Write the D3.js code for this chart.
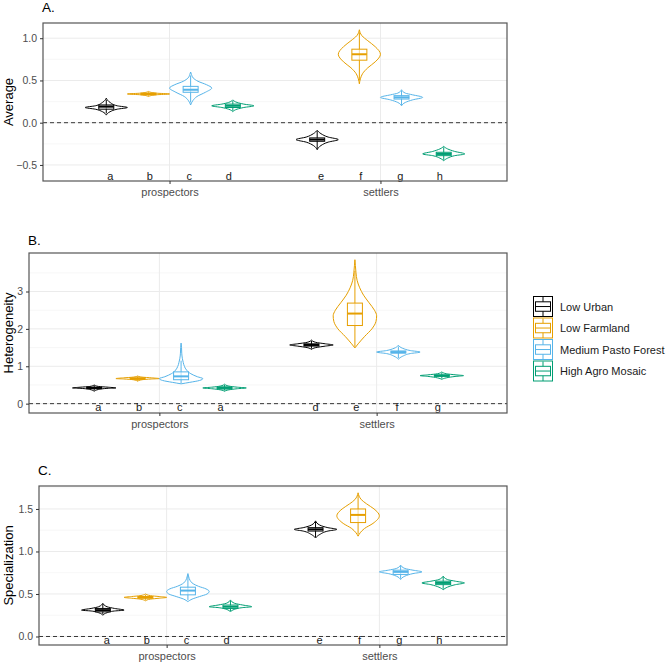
<!DOCTYPE html>
<html>
<head>
<meta charset="utf-8">
<script src="https://cdn.jsdelivr.net/npm/d3@7"></script>
<style>
  body { margin: 0; background: #fff; }
  svg { font-family: Arial, "Liberation Sans", sans-serif; }
</style>
</head>
<body>
<svg width="669" height="663"></svg>
<script>
// groups and periods
var groupNames = ["Low Urban", "Low Farmland", "Medium Pasto Forest", "High Agro Mosaic"];
var groupColors = ["#000000", "#E69F00", "#56B4E9", "#009E73"];
var periods = ["prospectors", "settlers"];

// each list: prospectors x 4 groups, then settlers x 4 groups
// boxes: [lower whisker, q1, median, q3, upper whisker]
// violins: [value, relative density]

// A. Average
var avgLetters = ["a", "b", "c", "d", "e", "f", "g", "h"];
var avgBoxes = [
  [0.11, 0.16, 0.19, 0.21, 0.27],
  [0.32, 0.33, 0.34, 0.35, 0.36],
  [0.24, 0.36, 0.39, 0.43, 0.56],
  [0.14, 0.18, 0.20, 0.22, 0.26],
  [-0.31, -0.22, -0.20, -0.18, -0.10],
  [0.50, 0.74, 0.81, 0.87, 1.07],
  [0.21, 0.28, 0.30, 0.32, 0.38],
  [-0.44, -0.39, -0.37, -0.35, -0.29]
];
var avgViolins = [
  [[0.09, 0], [0.13, 0.18], [0.16, 0.52], [0.18, 1], [0.20, 0.52], [0.24, 0.18], [0.29, 0]],
  [[0.31, 0], [0.33, 0.35], [0.34, 1], [0.35, 0.35], [0.37, 0]],
  [[0.21, 0], [0.26, 0.1], [0.31, 0.3], [0.36, 0.7], [0.41, 1], [0.45, 0.75], [0.49, 0.35], [0.53, 0.12], [0.57, 0.04], [0.60, 0]],
  [[0.13, 0], [0.16, 0.2], [0.18, 0.52], [0.20, 1], [0.22, 0.52], [0.24, 0.2], [0.27, 0]],
  [[-0.32, 0], [-0.27, 0.18], [-0.23, 0.52], [-0.20, 1], [-0.17, 0.52], [-0.13, 0.18], [-0.09, 0]],
  [[0.46, 0], [0.52, 0.05], [0.58, 0.15], [0.65, 0.4], [0.72, 0.75], [0.81, 1], [0.90, 0.75], [0.97, 0.4], [1.03, 0.12], [1.07, 0.03], [1.10, 0]],
  [[0.20, 0], [0.24, 0.18], [0.27, 0.52], [0.30, 1], [0.33, 0.52], [0.35, 0.18], [0.39, 0]],
  [[-0.45, 0], [-0.42, 0.18], [-0.39, 0.52], [-0.37, 1], [-0.34, 0.52], [-0.31, 0.18], [-0.28, 0]]
];

// B. Heterogeneity
var hetLetters = ["a", "b", "c", "a", "d", "e", "f", "g"];
var hetBoxes = [
  [0.35, 0.40, 0.42, 0.44, 0.49],
  [0.61, 0.65, 0.67, 0.69, 0.73],
  [0.55, 0.64, 0.73, 0.85, 1.15],
  [0.35, 0.39, 0.42, 0.45, 0.50],
  [1.47, 1.54, 1.57, 1.60, 1.68],
  [1.52, 2.09, 2.41, 2.69, 3.55],
  [1.22, 1.35, 1.38, 1.41, 1.53],
  [0.67, 0.73, 0.75, 0.77, 0.83]
];
var hetViolins = [
  [[0.33, 0], [0.38, 0.2], [0.41, 0.65], [0.42, 1], [0.44, 0.65], [0.46, 0.2], [0.50, 0]],
  [[0.60, 0], [0.64, 0.2], [0.66, 0.65], [0.67, 1], [0.69, 0.65], [0.71, 0.2], [0.74, 0]],
  [[0.53, 0], [0.57, 0.4], [0.62, 0.85], [0.67, 1], [0.72, 0.75], [0.80, 0.45], [0.90, 0.25], [1.00, 0.15], [1.10, 0.1], [1.20, 0.06], [1.35, 0.03], [1.50, 0.02], [1.62, 0]],
  [[0.33, 0], [0.37, 0.2], [0.40, 0.6], [0.42, 1], [0.44, 0.6], [0.47, 0.2], [0.52, 0]],
  [[1.45, 0], [1.50, 0.2], [1.54, 0.65], [1.57, 1], [1.60, 0.65], [1.64, 0.2], [1.70, 0]],
  [[1.49, 0], [1.60, 0.15], [1.80, 0.45], [2.00, 0.78], [2.20, 0.97], [2.35, 1], [2.50, 0.9], [2.70, 0.65], [2.90, 0.4], [3.10, 0.22], [3.30, 0.1], [3.50, 0.05], [3.70, 0.02], [3.85, 0]],
  [[1.19, 0], [1.27, 0.2], [1.34, 0.55], [1.38, 1], [1.42, 0.55], [1.48, 0.2], [1.56, 0]],
  [[0.65, 0], [0.69, 0.2], [0.73, 0.65], [0.75, 1], [0.77, 0.65], [0.80, 0.2], [0.85, 0]]
];

// C. Specialization
var speLetters = ["a", "b", "c", "d", "e", "f", "g", "h"];
var speBoxes = [
  [0.26, 0.29, 0.31, 0.33, 0.38],
  [0.43, 0.45, 0.46, 0.47, 0.49],
  [0.43, 0.49, 0.54, 0.58, 0.71],
  [0.30, 0.33, 0.35, 0.37, 0.42],
  [1.17, 1.24, 1.26, 1.28, 1.35],
  [1.20, 1.34, 1.43, 1.50, 1.67],
  [0.68, 0.73, 0.76, 0.78, 0.83],
  [0.56, 0.61, 0.63, 0.65, 0.70]
];
var speViolins = [
  [[0.25, 0], [0.28, 0.2], [0.30, 0.55], [0.31, 1], [0.33, 0.55], [0.35, 0.2], [0.39, 0]],
  [[0.42, 0], [0.44, 0.25], [0.45, 0.65], [0.46, 1], [0.47, 0.65], [0.48, 0.25], [0.50, 0]],
  [[0.41, 0], [0.44, 0.2], [0.47, 0.55], [0.50, 0.9], [0.53, 1], [0.56, 0.85], [0.59, 0.5], [0.62, 0.25], [0.66, 0.1], [0.70, 0.04], [0.74, 0]],
  [[0.29, 0], [0.32, 0.2], [0.34, 0.58], [0.35, 1], [0.37, 0.58], [0.39, 0.2], [0.43, 0]],
  [[1.16, 0], [1.20, 0.2], [1.24, 0.58], [1.26, 1], [1.28, 0.58], [1.31, 0.2], [1.36, 0]],
  [[1.18, 0], [1.22, 0.1], [1.27, 0.3], [1.33, 0.7], [1.42, 1], [1.50, 0.75], [1.56, 0.4], [1.61, 0.15], [1.65, 0.05], [1.69, 0]],
  [[0.67, 0], [0.71, 0.2], [0.74, 0.58], [0.76, 1], [0.78, 0.58], [0.80, 0.2], [0.84, 0]],
  [[0.55, 0], [0.58, 0.2], [0.61, 0.58], [0.63, 1], [0.65, 0.58], [0.67, 0.2], [0.71, 0]]
];

var svg = d3.select('svg');
var plotRight = 507;

var panels = [
  {title: 'A.', ylab: 'Average', left: 43, top: 23, bottom: 181, titleY: 12,
   domain: [-0.69, 1.18], ticks: [-0.5, 0, 0.5, 1], fmt: '.1f', letterY: -0.63,
   letters: avgLetters, boxes: avgBoxes, violins: avgViolins},
  {title: 'B.', ylab: 'Heterogeneity', left: 29, top: 253, bottom: 413, titleY: 245,
   domain: [-0.25, 4.03], ticks: [0, 1, 2, 3], fmt: 'd', letterY: -0.1,
   letters: hetLetters, boxes: hetBoxes, violins: hetViolins},
  {title: 'C.', ylab: 'Specialization', left: 39, top: 486, bottom: 645, titleY: 475,
   domain: [-0.1, 1.77], ticks: [0, 0.5, 1, 1.5], fmt: '.1f', letterY: -0.04,
   letters: speLetters, boxes: speBoxes, violins: speViolins}
];

panels.forEach(drawPanel);
drawLegend();

function drawPanel(p) {
  var g = svg.append('g');
  var x = d3.scalePoint().domain(periods).range([p.left, plotRight]).padding(0.6);
  var y = d3.scaleLinear().domain(p.domain).range([p.bottom, p.top]);
  var step = x.step();
  var dodge = step * 0.8 / 4;      // violins + boxes
  var letterDodge = step * 0.75 / 4;
  var halfW = dodge / 2;
  var boxW = 15;

  // minor + major grid
  var minors = [];
  for (var i = 0; i < p.ticks.length - 1; i++) minors.push((p.ticks[i] + p.ticks[i + 1]) / 2);
  var d0 = p.ticks[1] - p.ticks[0];
  minors.push(p.ticks[0] - d0 / 2, p.ticks[p.ticks.length - 1] + d0 / 2);
  minors = minors.filter(function(v) { return v > p.domain[0] && v < p.domain[1]; });

  g.selectAll('.minor').data(minors).enter().append('line')
    .attr('x1', p.left).attr('x2', plotRight)
    .attr('y1', y).attr('y2', y)
    .attr('stroke', '#f2f2f2').attr('stroke-width', 0.6);
  g.selectAll('.major').data(p.ticks).enter().append('line')
    .attr('x1', p.left).attr('x2', plotRight)
    .attr('y1', y).attr('y2', y)
    .attr('stroke', '#ebebeb').attr('stroke-width', 1);
  g.selectAll('.vmajor').data(periods).enter().append('line')
    .attr('x1', x).attr('x2', x)
    .attr('y1', p.top).attr('y2', p.bottom)
    .attr('stroke', '#ebebeb').attr('stroke-width', 1);

  // zero line
  g.append('line')
    .attr('x1', p.left).attr('x2', plotRight)
    .attr('y1', y(0)).attr('y2', y(0))
    .attr('stroke', '#222').attr('stroke-width', 0.9)
    .attr('stroke-dasharray', '4,3');

  var items = [];
  periods.forEach(function(per, pi) {
    groupNames.forEach(function(gn, gi) {
      var k = pi * 4 + gi;
      items.push({
        cx: x(per) + (gi - 1.5) * dodge,
        lx: x(per) + (gi - 1.5) * letterDodge,
        color: groupColors[gi],
        box: p.boxes[k],
        violin: p.violins[k],
        letter: p.letters[k]
      });
    });
  });

  items.forEach(function(d) {
    var area = d3.area()
      .y(function(v) { return y(v[0]); })
      .x0(function(v) { return d.cx - v[1] * halfW; })
      .x1(function(v) { return d.cx + v[1] * halfW; })
      .curve(d3.curveMonotoneY);
    g.append('path')
      .attr('d', area(d.violin))
      .attr('fill', '#fff')
      .attr('stroke', d.color)
      .attr('stroke-width', 1);

    var b = d.box;
    g.append('line')
      .attr('x1', d.cx).attr('x2', d.cx)
      .attr('y1', y(b[0])).attr('y2', y(b[4]))
      .attr('stroke', d.color).attr('stroke-width', 1);
    g.append('rect')
      .attr('x', d.cx - boxW / 2).attr('width', boxW)
      .attr('y', y(b[3])).attr('height', Math.max(0.5, y(b[1]) - y(b[3])))
      .attr('fill', '#fff').attr('fill-opacity', 0.6)
      .attr('stroke', d.color).attr('stroke-width', 1);
    g.append('line')
      .attr('x1', d.cx - boxW / 2).attr('x2', d.cx + boxW / 2)
      .attr('y1', y(b[2])).attr('y2', y(b[2]))
      .attr('stroke', d.color).attr('stroke-width', 2);

    g.append('text')
      .attr('x', d.lx).attr('y', y(p.letterY))
      .attr('dy', '0.35em')
      .attr('text-anchor', 'middle')
      .attr('font-size', 11)
      .attr('fill', '#1a1a1a')
      .text(d.letter);
  });

  // border
  g.append('rect')
    .attr('x', p.left).attr('y', p.top)
    .attr('width', plotRight - p.left).attr('height', p.bottom - p.top)
    .attr('fill', 'none').attr('stroke', '#555').attr('stroke-width', 1.2);

  // axes
  var ya = g.append('g').attr('transform', 'translate(' + p.left + ',0)')
    .call(d3.axisLeft(y).tickValues(p.ticks).tickFormat(d3.format(p.fmt)).tickSize(3).tickPadding(3));
  ya.select('.domain').remove();
  ya.selectAll('line').attr('stroke', '#333');
  ya.selectAll('text').attr('font-size', 10.5).attr('fill', '#4d4d4d').attr('font-family', 'Arial, Liberation Sans, sans-serif');

  var xa = g.append('g').attr('transform', 'translate(0,' + p.bottom + ')')
    .call(d3.axisBottom(x).tickSize(3).tickPadding(4));
  xa.select('.domain').remove();
  xa.selectAll('line').attr('stroke', '#333');
  xa.selectAll('text').attr('font-size', 11).attr('fill', '#4d4d4d').attr('font-family', 'Arial, Liberation Sans, sans-serif');

  // titles
  g.append('text')
    .attr('x', p.left - 1).attr('y', p.titleY)
    .attr('font-size', 13.5).attr('fill', '#000')
    .text(p.title);
  g.append('text')
    .attr('transform', 'translate(8,' + ((p.top + p.bottom) / 2) + ') rotate(-90)')
    .attr('text-anchor', 'middle')
    .attr('dy', '0.35em')
    .attr('font-size', 13).attr('fill', '#000')
    .text(p.ylab);
}

function drawLegend() {
  var lg = svg.append('g').attr('transform', 'translate(533,296)');
  var keyW = 20, keyH = 21.5;
  groupNames.forEach(function(name, i) {
    var k = lg.append('g').attr('transform', 'translate(0,' + (i * keyH) + ')');
    var c = groupColors[i];
    k.append('rect').attr('x', 0.5).attr('y', 0.5).attr('width', keyW - 1).attr('height', keyH - 1.5)
      .attr('fill', '#fff').attr('stroke', c).attr('stroke-width', 1);
    k.append('line').attr('x1', keyW / 2).attr('x2', keyW / 2).attr('y1', 1).attr('y2', keyH - 1)
      .attr('stroke', c);
    k.append('rect').attr('x', 2.5).attr('y', keyH * 0.27).attr('width', keyW - 5).attr('height', keyH * 0.44)
      .attr('fill', '#fff').attr('stroke', c);
    k.append('line').attr('x1', 2.5).attr('x2', keyW - 2.5).attr('y1', keyH * 0.49).attr('y2', keyH * 0.49)
      .attr('stroke', c).attr('stroke-width', 1);
    k.append('text').attr('x', 27).attr('y', keyH / 2).attr('dy', '0.35em')
      .attr('font-size', 11).attr('fill', '#1a1a1a')
      .text(name);
  });
}
</script>
</body>
</html>
